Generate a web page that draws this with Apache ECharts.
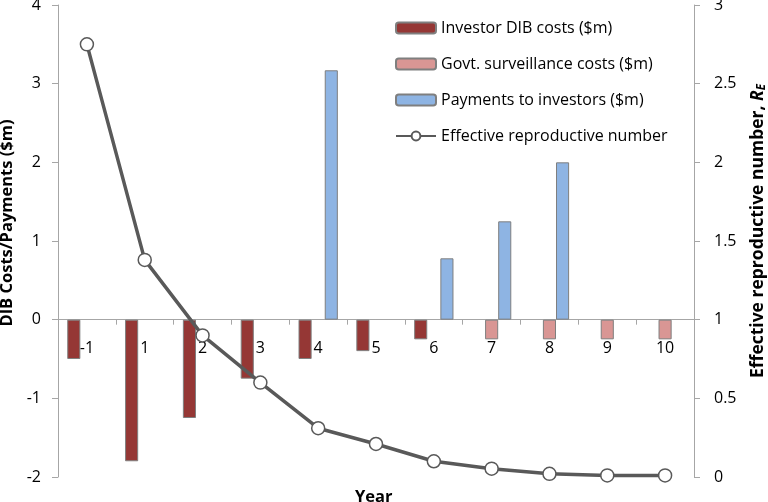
<!DOCTYPE html>
<html><head><meta charset="utf-8">
<script src="https://cdn.jsdelivr.net/npm/echarts@6/dist/echarts.min.js"></script>
<style>html,body{margin:0;padding:0;background:#fff}#c{width:768px;height:502px}</style>
</head><body><div id="c"></div>
<script>
const years = ['-1','1','2','3','4','5','6','7','8','9','10'];
const investorCosts = [-0.5,-1.8,-1.25,-0.75,-0.5,-0.4,-0.25,null,null,null,null];
const govtCosts = [null,null,null,null,null,null,null,-0.25,-0.25,-0.25,-0.25];
const payments = [null,null,null,null,3.17,null,0.78,1.25,2.0,null,null];
const reNumber = [2.75,1.38,0.9,0.6,0.31,0.21,0.1,0.053,0.02,0.01,0.01];
const leftTicks = {min:-2,max:4,interval:1};
const rightTicks = {min:0,max:3,interval:0.5};

const FONT = 'Open Sans';
const GRID = {left:58,right:74,top:5,bottom:25};
const H = 502 - GRID.top - GRID.bottom;
const zeroOffset = -H * (0 - leftTicks.min) / (leftTicks.max - leftTicks.min);

const chart = echarts.init(document.getElementById('c'));
const barBorder = {borderColor:'#7f7f7f', borderWidth:1};
chart.setOption({
  animation:false,
  textStyle:{fontFamily:FONT},
  title:{text:'Year', left:355, top:489, padding:0, textStyle:{fontFamily:FONT,fontSize:16.5,fontWeight:'bold',color:'#000'}},
  grid:Object.assign({containLabel:false, outerBoundsMode:'none'},GRID),
  legend:{
    orient:'vertical', left:390, top:15, itemWidth:40, itemHeight:11, itemGap:20,
    textStyle:{fontFamily:FONT,fontSize:16,color:'#000'},
    data:['Investor DIB costs ($m)','Govt. surveillance costs ($m)','Payments to investors ($m)','Effective reproductive number']
  },
  xAxis:{
    type:'category', data:years, boundaryGap:true, offset:zeroOffset,
    axisLine:{onZero:false, lineStyle:{color:'#a6a6a6',width:1}},
    axisTick:{show:true, length:5, lineStyle:{color:'#a6a6a6'}},
    axisLabel:{color:'#000', fontSize:16, fontFamily:FONT, margin:21}
  },
  yAxis:[{
    type:'value', min:leftTicks.min, max:leftTicks.max, interval:leftTicks.interval,
    splitLine:{show:false},
    axisLine:{show:true, lineStyle:{color:'#a6a6a6'}},
    axisTick:{show:true, length:6, lineStyle:{color:'#a6a6a6'}},
    axisLabel:{color:'#000', fontSize:16, fontFamily:FONT, margin:17},
    name:'DIB Costs/Payments ($m)', nameLocation:'middle', nameGap:36, nameRotate:90,
    nameTextStyle:{fontFamily:FONT,fontSize:16.5,fontWeight:'bold',color:'#000',padding:[0,0,0,36]}
  },{
    type:'value', min:rightTicks.min, max:rightTicks.max, interval:rightTicks.interval,
    position:'right', splitLine:{show:false},
    axisLine:{show:true, lineStyle:{color:'#a6a6a6'}},
    axisTick:{show:true, length:6, lineStyle:{color:'#a6a6a6'}},
    axisLabel:{color:'#000', fontSize:16, fontFamily:FONT, margin:20},
    name:'{b|Effective reproductive number, }{i|R}{s|E}', nameLocation:'middle', nameGap:55, nameRotate:90,
    nameTextStyle:{fontFamily:FONT,fontSize:17.5,fontWeight:'bold',color:'#000',padding:[0,0,0,20],
      rich:{b:{fontFamily:FONT,fontSize:17.5,fontWeight:'bold',color:'#000'},
            i:{fontFamily:FONT,fontSize:17.5,fontWeight:'bold',fontStyle:'italic',color:'#000'},
            s:{fontFamily:FONT,fontSize:11.5,fontWeight:'bold',fontStyle:'italic',color:'#000',padding:[7,0,0,0]}}}
  }],
  series:[
    {name:'Investor DIB costs ($m)', type:'bar', data:investorCosts, barGap:'0%', barCategoryGap:'32%',
     itemStyle:Object.assign({color:'#953735'},barBorder)},
    {name:'Govt. surveillance costs ($m)', type:'bar', data:govtCosts,
     itemStyle:Object.assign({color:'#d99694'},barBorder)},
    {name:'Payments to investors ($m)', type:'bar', data:payments,
     itemStyle:Object.assign({color:'#8eb4e3'},barBorder)},
    {name:'Effective reproductive number', type:'line', yAxisIndex:1, data:reNumber, z:5,
     symbol:'circle', symbolSize:13, showAllSymbol:true,
     lineStyle:{color:'#595959', width:3.5},
     itemStyle:{color:'#fff', borderColor:'#595959', borderWidth:1.5}}
  ]
});
</script></body></html>
